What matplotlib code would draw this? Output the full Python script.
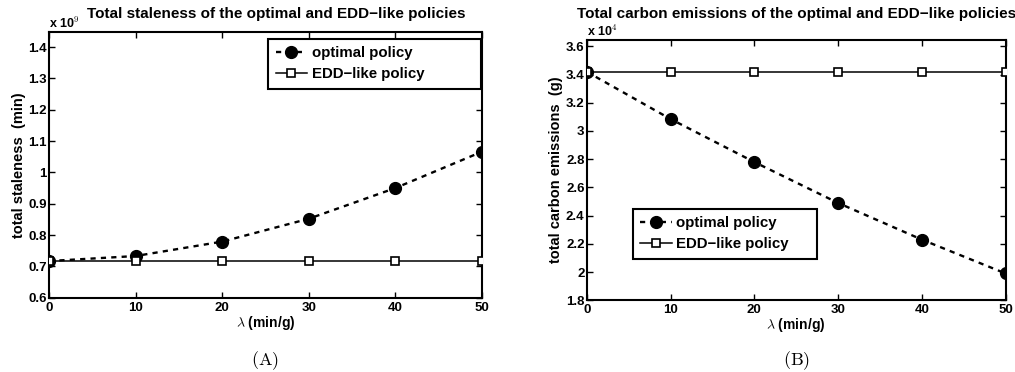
import matplotlib
matplotlib.use("Agg")
import matplotlib.pyplot as plt
from matplotlib.ticker import FixedLocator

plt.rcParams['font.family'] = ['Liberation Sans', 'DejaVu Sans']
plt.rcParams['mathtext.fontset'] = 'cm'

# lambda values (min/g)
lam = [0, 10, 20, 30, 40, 50]

# (A) total staleness, in units of 1e9 min
staleness_optimal = [0.717, 0.733, 0.779, 0.852, 0.950, 1.066]
staleness_edd = [0.717, 0.717, 0.717, 0.717, 0.717, 0.717]

# (B) total carbon emissions, in units of 1e4 g
carbon_optimal = [3.42, 3.085, 2.78, 2.49, 2.23, 1.99]
carbon_edd = [3.42, 3.42, 3.42, 3.42, 3.42, 3.42]

x_ticks = [0, 10, 20, 30, 40, 50]
yticks_a = [0.6, 0.7, 0.8, 0.9, 1.0, 1.1, 1.2, 1.3, 1.4]
ylabels_a = ["0.6", "0.7", "0.8", "0.9", "1", "1.1", "1.2", "1.3", "1.4"]
yticks_b = [1.8, 2.0, 2.2, 2.4, 2.6, 2.8, 3.0, 3.2, 3.4, 3.6]
ylabels_b = ["1.8", "2", "2.2", "2.4", "2.6", "2.8", "3", "3.2", "3.4", "3.6"]

W, H = 1015, 372
fig = plt.figure(figsize=(W / 100, H / 100), dpi=100)

TICK_FS = 9.5
LABEL_FS = 10.5
TITLE_FS = 11
LEGEND_FS = 10.8


def px_axes(l, t, r, b):
    return fig.add_axes([l / W, 1 - b / H, (r - l) / W, (b - t) / H])


def style(ax, ylim, yticks, ylabels):
    ax.set_xlim(0, 50)
    ax.set_ylim(*ylim)
    ax.xaxis.set_major_locator(FixedLocator(x_ticks))
    ax.set_xticklabels([str(v) for v in x_ticks], fontsize=TICK_FS, fontweight='bold')
    ax.yaxis.set_major_locator(FixedLocator(yticks))
    ax.set_yticklabels(ylabels, fontsize=TICK_FS, fontweight='bold')
    ax.tick_params(direction='in', top=True, right=True, length=4, width=1)
    ax.tick_params(axis='x', pad=3)
    ax.tick_params(axis='y', pad=1.5)
    for s in ax.spines.values():
        s.set_linewidth(1.5)


def draw(ax, opt, edd):
    ax.plot(lam, opt, linestyle=(0, (2.2, 2.2)), color='black', lw=1.7,
            marker='o', markersize=8.5, markerfacecolor='black',
            markeredgecolor='black', label='optimal policy', zorder=3)
    ax.plot(lam, edd, linestyle='-', color='black', lw=1.1,
            marker='s', markersize=6, markerfacecolor='white',
            markeredgecolor='black', markeredgewidth=1.2,
            label='EDD\u2212like policy', zorder=4)


def add_legend(ax, x0, x1, top):
    # legend box stretched horizontally between x0 and x1 (axes fraction)
    leg = ax.legend(loc='upper left', bbox_to_anchor=(x0, 0, x1 - x0, top),
                    mode='expand',
                    prop={'weight': 'bold', 'size': LEGEND_FS}, frameon=True,
                    fancybox=False, edgecolor='black', framealpha=1,
                    handlelength=2.1, handletextpad=0.3,
                    borderpad=0.5, labelspacing=0.45, borderaxespad=0)
    leg.get_frame().set_linewidth(1.5)
    return leg


# (A)
axA = px_axes(49, 32, 482, 297.7)
draw(axA, staleness_optimal, staleness_edd)
style(axA, (0.6, 1.448), yticks_a, ylabels_a)
axA.set_title('Total staleness of the optimal and EDD\u2212like policies',
              fontsize=TITLE_FS, fontweight='bold', pad=10, x=0.524)
axA.set_ylabel('total staleness  (min)', fontsize=LABEL_FS, fontweight='bold', labelpad=2)
axA.set_xlabel(r'$\lambda$ (min/g)', fontsize=10, fontweight='bold', labelpad=0)
axA.text(0.0, 1.004, r'x 10$^{9}$', transform=axA.transAxes, fontsize=9,
         fontweight='bold', ha='left', va='bottom')
add_legend(axA, 0.506, 0.998, 0.974)
fig.text(265 / W, 1 - 361 / H, r'$(\mathrm{A})$', fontsize=13, ha='center', va='center')

# (B)
axB = px_axes(586.7, 40, 1005.7, 300.3)
draw(axB, carbon_optimal, carbon_edd)
style(axB, (1.8, 3.645), yticks_b, ylabels_b)
axB.set_title('Total carbon emissions of the optimal and EDD\u2212like policies',
              fontsize=TITLE_FS, fontweight='bold', pad=16)
axB.set_ylabel('total carbon emissions  (g)', fontsize=LABEL_FS, fontweight='bold', labelpad=2)
axB.set_xlabel(r'$\lambda$ (min/g)', fontsize=10, fontweight='bold', labelpad=0)
axB.text(0.0, 1.004, r'x 10$^{4}$', transform=axB.transAxes, fontsize=9,
         fontweight='bold', ha='left', va='bottom')
add_legend(axB, 0.110, 0.549, 0.351)
fig.text(797 / W, 1 - 361 / H, r'$(\mathrm{B})$', fontsize=13, ha='center', va='center')

fig.savefig('out.png', dpi=100)
